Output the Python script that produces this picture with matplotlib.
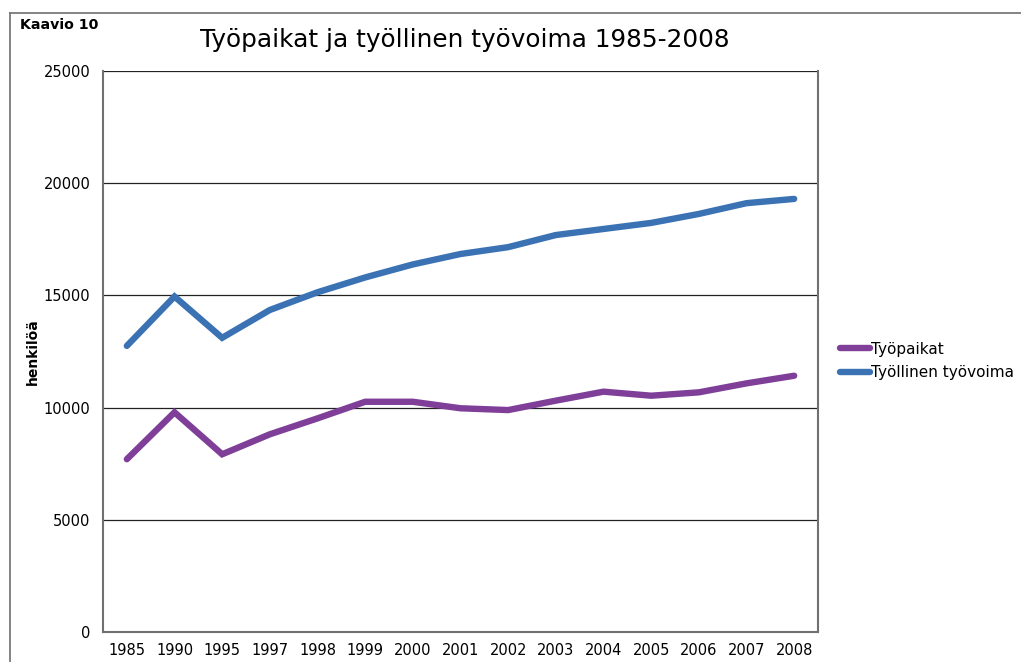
import matplotlib
matplotlib.use("Agg")
import matplotlib.pyplot as plt
from matplotlib.lines import Line2D

years = ["1985", "1990", "1995", "1997", "1998", "1999", "2000", "2001",
         "2002", "2003", "2004", "2005", "2006", "2007", "2008"]
tyopaikat = [7700, 9790, 7920, 8810, 9520, 10260, 10260, 9970,
             9890, 10310, 10710, 10530, 10680, 11080, 11420]
tyovoima = [12750, 14950, 13110, 14350, 15140, 15800, 16380, 16845,
            17150, 17690, 17960, 18230, 18630, 19110, 19300]
yticks = [0, 5000, 10000, 15000, 20000, 25000]

W, H = 1021, 662
fig = plt.figure(figsize=(W / 100, H / 100), dpi=100)
ax = fig.add_axes([103 / W, 1 - 632 / H, (818 - 103) / W, (632 - 71) / H])

x = list(range(len(years)))
purple = "#7f3f98"
blue = "#3a72b4"
ax.plot(x, tyopaikat, color=purple, lw=4.6, solid_capstyle="round",
        solid_joinstyle="miter", label="Työpaikat")
ax.plot(x, tyovoima, color=blue, lw=4.6, solid_capstyle="round",
        solid_joinstyle="miter", label="Työllinen työvoima")

ax.set_xlim(-0.5, len(years) - 0.5)
ax.set_ylim(0, 25000)
ax.set_yticks(yticks)
ax.set_yticklabels([str(v) for v in yticks])
ax.set_xticks(x)
ax.set_xticklabels(years)
ax.tick_params(axis="both", length=0, labelsize=10.5, colors="#000000")
ax.tick_params(axis="y", pad=9)
ax.tick_params(axis="x", pad=8)
ax.grid(axis="y", color="#222222", lw=0.9)
ax.set_axisbelow(True)
for s in ["left", "bottom", "right"]:
    ax.spines[s].set_color("#707070")
    ax.spines[s].set_linewidth(1.5)
ax.spines["top"].set_visible(False)

ax.set_ylabel("henkilöä", fontsize=10, fontweight="bold", labelpad=3)

fig.text(465 / W, 1 - 40 / H, "Työpaikat ja työllinen työvoima 1985-2008",
         fontsize=17.8, ha="center", va="center")
fig.text(20 / W, 1 - 25 / H, "Kaavio 10", fontsize=10.2, fontweight="bold",
         ha="left", va="center")

fig.add_artist(Line2D([10 / W, 10 / W], [0, 1 - 13 / H], color="#707070", lw=1.2,
                      transform=fig.transFigure))
fig.add_artist(Line2D([10 / W, 1.0], [1 - 13 / H, 1 - 13 / H], color="#707070", lw=1.2,
                      transform=fig.transFigure))

leg = fig.legend(loc="upper left", bbox_to_anchor=(826 / W, 1 - 328 / H),
                 frameon=False, fontsize=11, handlelength=2.0, handletextpad=0.05,
                 labelspacing=0.55)

fig.savefig("out.png", dpi=100)
